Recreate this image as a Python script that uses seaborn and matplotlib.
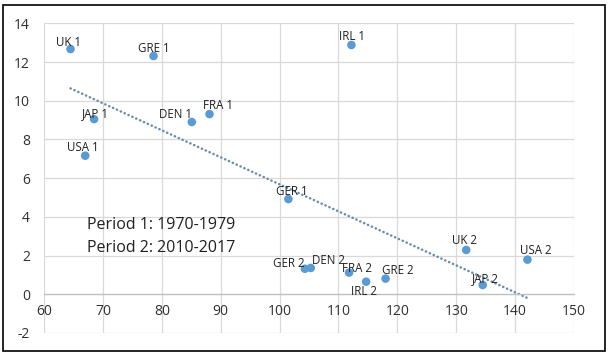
import matplotlib
matplotlib.use("Agg")
import matplotlib.pyplot as plt
import seaborn as sns
import numpy as np
import pandas as pd

labels = ["UK 1", "GRE 1", "JAP 1", "DEN 1", "FRA 1", "USA 1", "IRL 1", "GER 1",
          "GER 2", "DEN 2", "FRA 2", "IRL 2", "GRE 2", "UK 2", "JAP 2", "USA 2"]
x_vals = [64.5, 78.6, 68.5, 85.1, 88.1, 67.0, 112.2, 101.5,
          104.3, 105.3, 111.8, 114.7, 118.0, 131.7, 134.5, 142.1]
y_vals = [12.67, 12.31, 9.05, 8.90, 9.31, 7.16, 12.88, 4.92,
          1.32, 1.36, 1.12, 0.65, 0.81, 2.29, 0.48, 1.79]
x_ticks = [60, 70, 80, 90, 100, 110, 120, 130, 140, 150]
y_ticks = [-2, 0, 2, 4, 6, 8, 10, 12, 14]
note_lines = ["Period 1: 1970-1979", "Period 2: 2010-2017"]

# label offsets in pixels (layout only)
label_offsets = {
    "UK 1": (-2, 7), "GRE 1": (0, 8), "JAP 1": (1, 6), "DEN 1": (-16, 8),
    "FRA 1": (9, 9), "USA 1": (-2, 8), "IRL 1": (1, 8), "GER 1": (3, 8),
    "GER 2": (-16, 5), "DEN 2": (18, 7), "FRA 2": (8, 4), "IRL 2": (-2, -10),
    "GRE 2": (12, 8), "UK 2": (-2, 9), "JAP 2": (3, 6), "USA 2": (8, 9),
}

df = pd.DataFrame({"label": labels, "x": x_vals, "y": y_vals})

sns.set_theme(style="white")
plt.rcParams["font.family"] = ["Open Sans", "DejaVu Sans"]

fig = plt.figure(figsize=(6.09, 3.55), dpi=100)
ax = fig.add_axes([44 / 609, 1 - 333 / 355, 530 / 609, (333 - 23.3) / 355])

# trend line
coef = np.polyfit(df["x"], df["y"], 1)
xt = np.array([df["x"].min(), df["x"].max()])
ax.plot(xt, np.polyval(coef, xt), color="#6A8CAB", lw=1.8,
        linestyle=(0, (0.1, 1.6)), dash_capstyle="round", zorder=2)

sns.scatterplot(data=df, x="x", y="y", ax=ax, color="#5B9BD5", s=38,
                edgecolor="none", zorder=3, legend=False)

for _, r in df.iterrows():
    dx, dy = label_offsets[r["label"]]
    ax.annotate(r["label"], (r["x"], r["y"]), xytext=(dx, dy),
                textcoords="offset pixels", ha="center", va="center",
                fontsize=8.3, color="#202020", zorder=4)

ax.text(67.25, 3.58, note_lines[0], fontsize=11.5, color="#202020", va="center", ha="left")
ax.text(67.25, 2.40, note_lines[1], fontsize=11.5, color="#202020", va="center", ha="left")

ax.set_xlim(60, 150)
ax.set_ylim(-2, 14)
ax.set_xticks(x_ticks)
ax.set_yticks(y_ticks)
ax.set_xticklabels([str(v) for v in x_ticks])
ax.set_yticklabels([str(v) for v in y_ticks])
ax.grid(True, color="#D9D9D9", lw=0.9)
ax.set_axisbelow(True)
for s in ["top", "right", "left"]:
    ax.spines[s].set_visible(False)
ax.spines["bottom"].set_position(("data", 0))
ax.spines["bottom"].set_color("#BFBFBF")
ax.spines["bottom"].set_linewidth(0.9)
ax.tick_params(axis="both", length=0, labelsize=10, colors="#303030")
ax.tick_params(axis="y", pad=10)
ax.tick_params(axis="x", pad=7)
ax.set_xlabel("")
ax.set_ylabel("")

# chart border
fig.patches.append(plt.Rectangle((3 / 609, 1 - 351 / 355), 602 / 609, 346 / 355,
                                 transform=fig.transFigure, fill=False,
                                 edgecolor="black", lw=1.2))

fig.savefig("out.png", dpi=100)
